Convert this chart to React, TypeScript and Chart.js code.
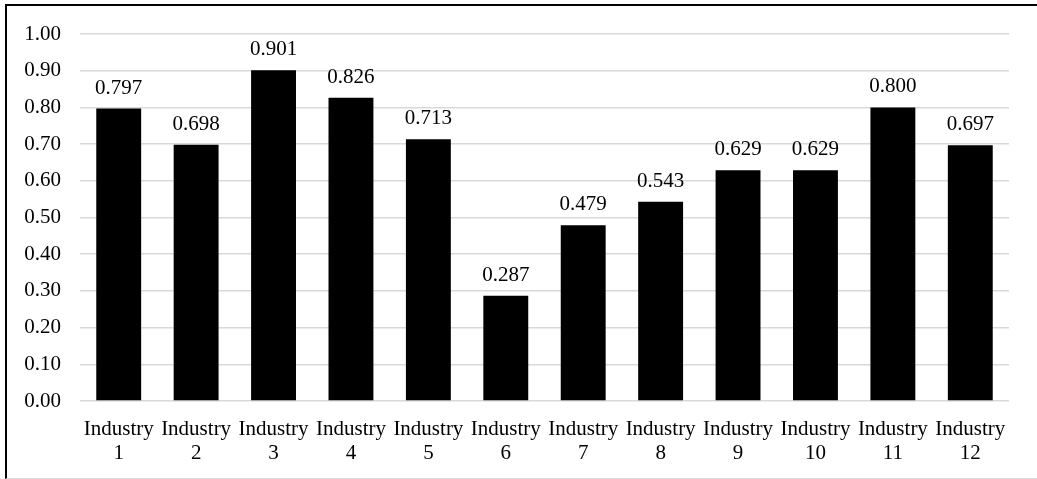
import React, { useEffect, useRef } from "react";
import { Chart, registerables } from "chart.js";

Chart.register(...registerables);

const categories = [
  "Industry 1", "Industry 2", "Industry 3", "Industry 4", "Industry 5", "Industry 6",
  "Industry 7", "Industry 8", "Industry 9", "Industry 10", "Industry 11", "Industry 12",
];
const values = [0.797, 0.698, 0.901, 0.826, 0.713, 0.287, 0.479, 0.543, 0.629, 0.629, 0.8, 0.697];
const yMin = 0;
const yMax = 1;
const yStep = 0.1;

const FONT = '"Liberation Serif", "Times New Roman", serif';

const valueLabels = {
  id: "valueLabels",
  afterDatasetsDraw(chart: any) {
    const ctx = chart.ctx;
    const meta = chart.getDatasetMeta(0);
    ctx.save();
    ctx.font = `21px ${FONT}`;
    ctx.fillStyle = "#000";
    ctx.textAlign = "center";
    ctx.textBaseline = "alphabetic";
    meta.data.forEach((bar: any, i: number) => {
      ctx.fillText(values[i].toFixed(3), bar.x, bar.y - 15);
    });
    ctx.restore();
  },
};

export default function App() {
  const ref = useRef<HTMLCanvasElement>(null);
  useEffect(() => {
    if (!ref.current) return;
    const chart = new Chart(ref.current, {
      type: "bar",
      data: {
        labels: categories,
        datasets: [
          {
            data: values,
            backgroundColor: "#000",
            borderWidth: 0,
            categoryPercentage: 1,
            barPercentage: 0.58,
          },
        ],
      },
      options: {
        animation: false,
        responsive: false,
        devicePixelRatio: 1,
        layout: { padding: { left: 0, right: 28, top: 34, bottom: 0 } },
        plugins: { legend: { display: false }, tooltip: { enabled: false } },
        scales: {
          x: {
            grid: { display: false },
            border: { display: false },
            ticks: {
              color: "#000",
              font: { family: FONT, size: 21, lineHeight: 1.15 },
              padding: 8,
              maxRotation: 0,
              autoSkip: false,
              callback: function (this: any, v: any) {
                const s = categories[v as number];
                return s.split(" ");
              },
            },
            afterFit: (s: any) => {
              s.height = 479 - 401;
            },
          },
          y: {
            min: yMin,
            max: yMax,
            grid: { color: "#d9d9d9", lineWidth: 1.5, drawTicks: false },
            border: { display: false },
            ticks: {
              stepSize: yStep,
              color: "#000",
              font: { family: FONT, size: 21 },
              padding: 19,
              callback: (v: any) => Number(v).toFixed(2),
            },
            afterFit: (s: any) => {
              s.width = 80;
            },
          },
        },
      },
      plugins: [valueLabels],
    });
    return () => chart.destroy();
  }, []);
  return (
    <div style={{ position: "fixed", left: 0, top: 0, width: 1037, height: 479, overflow: "hidden", background: "#fff" }}>
      <canvas ref={ref} width={1037} height={479} style={{ position: "absolute", left: 0, top: 0 }} />
      <div
        style={{
          position: "absolute",
          left: 5,
          top: 4,
          width: 1100,
          height: 472,
          borderLeft: "2px solid #000",
          borderTop: "2px solid #000",
          borderBottom: "1px solid #d9d9d9",
          pointerEvents: "none",
        }}
      />
    </div>
  );
}
